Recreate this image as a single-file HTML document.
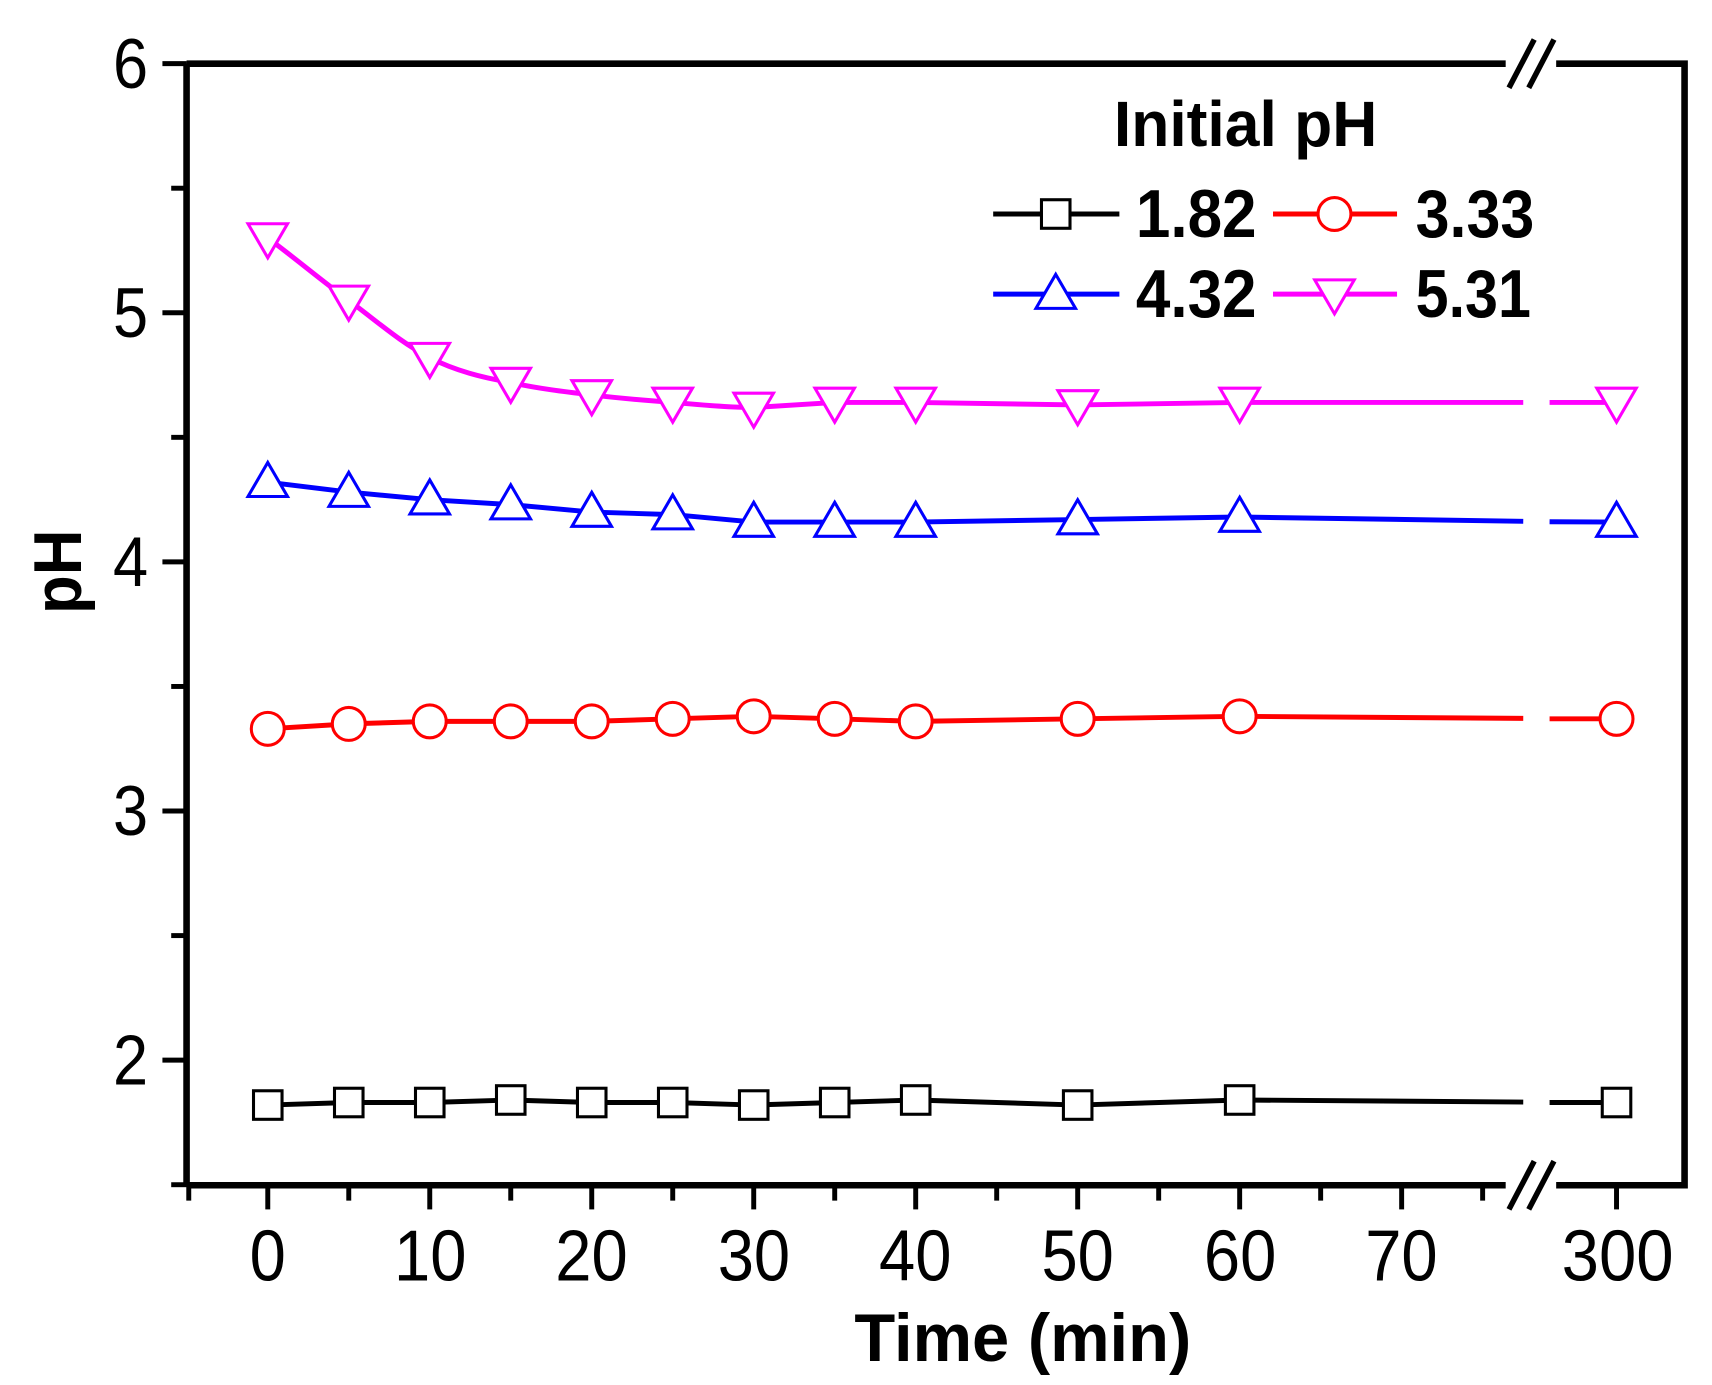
<!DOCTYPE html>
<html><head><meta charset="utf-8"><style>html,body{margin:0;padding:0;background:#fff}svg{display:block}</style></head>
<body>
<svg width="1712" height="1385" viewBox="0 0 1560 1262" preserveAspectRatio="none" xmlns="http://www.w3.org/2000/svg" xmlns:xlink="http://www.w3.org/1999/xlink" font-family="Liberation Sans, sans-serif">
<defs>
<rect id="sq" x="-13" y="-13" width="26" height="26" fill="#fff" stroke="currentColor" stroke-width="2.8"/>
<circle id="ci" r="15" fill="#fff" stroke="currentColor" stroke-width="2.8"/>
<path id="up" d="M0,-18 L18,13 L-18,13 Z" fill="#fff" stroke="currentColor" stroke-width="2.8"/>
<path id="dn" d="M0,18 L18,-13 L-18,-13 Z" fill="#fff" stroke="currentColor" stroke-width="2.8"/>
</defs>
<rect width="1560" height="1262" fill="#fff"/>
<path d="M170,58 H1372 M1418,58 H1535 V1080 H1418 M1372,1080 H170 M170,58 V1080" fill="none" stroke="#000" stroke-width="6"/>
<path d="M1375,80 L1398,36 M1393,80 L1416,36 M1375,1102 L1398,1058 M1393,1102 L1416,1058" stroke="#000" stroke-width="5"/>
<g stroke="#000" stroke-width="4.5">
<line x1="148" x2="170" y1="58" y2="58"/><line x1="156" x2="170" y1="171.5" y2="171.5"/>
<line x1="148" x2="170" y1="285" y2="285"/><line x1="156" x2="170" y1="398.5" y2="398.5"/>
<line x1="148" x2="170" y1="512" y2="512"/><line x1="156" x2="170" y1="625.5" y2="625.5"/>
<line x1="148" x2="170" y1="739" y2="739"/><line x1="156" x2="170" y1="852.5" y2="852.5"/>
<line x1="148" x2="170" y1="966" y2="966"/><line x1="156" x2="170" y1="1079.5" y2="1079.5"/>
</g>
<g font-size="64" text-anchor="middle">
<text x="119" y="80" textLength="32" lengthAdjust="spacingAndGlyphs">6</text><text x="119" y="307" textLength="32" lengthAdjust="spacingAndGlyphs">5</text><text x="119" y="534" textLength="32" lengthAdjust="spacingAndGlyphs">4</text><text x="119" y="761" textLength="32" lengthAdjust="spacingAndGlyphs">3</text><text x="119" y="988" textLength="32" lengthAdjust="spacingAndGlyphs">2</text>
</g>
<g stroke="#000" stroke-width="4.5">
<line x1="244" x2="244" y1="1080" y2="1102"/><line x1="317.8" x2="317.8" y1="1080" y2="1094"/>
<line x1="391.6" x2="391.6" y1="1080" y2="1102"/><line x1="465.4" x2="465.4" y1="1080" y2="1094"/>
<line x1="539.2" x2="539.2" y1="1080" y2="1102"/><line x1="613" x2="613" y1="1080" y2="1094"/>
<line x1="686.8" x2="686.8" y1="1080" y2="1102"/><line x1="760.6" x2="760.6" y1="1080" y2="1094"/>
<line x1="834.4" x2="834.4" y1="1080" y2="1102"/><line x1="908.2" x2="908.2" y1="1080" y2="1094"/>
<line x1="982" x2="982" y1="1080" y2="1102"/><line x1="1055.8" x2="1055.8" y1="1080" y2="1094"/>
<line x1="1129.6" x2="1129.6" y1="1080" y2="1102"/><line x1="1203.4" x2="1203.4" y1="1080" y2="1094"/>
<line x1="1277.2" x2="1277.2" y1="1080" y2="1102"/><line x1="1351" x2="1351" y1="1080" y2="1094"/>
<line x1="1473" x2="1473" y1="1080" y2="1102"/>
<line x1="172" x2="172" y1="1080" y2="1094"/>
</g>
<g font-size="66" text-anchor="middle">
<text x="244" y="1167" textLength="33" lengthAdjust="spacingAndGlyphs">0</text><text x="392" y="1167" textLength="66" lengthAdjust="spacingAndGlyphs">10</text><text x="539" y="1167" textLength="66" lengthAdjust="spacingAndGlyphs">20</text><text x="687" y="1167" textLength="66" lengthAdjust="spacingAndGlyphs">30</text>
<text x="834" y="1167" textLength="66" lengthAdjust="spacingAndGlyphs">40</text><text x="982" y="1167" textLength="66" lengthAdjust="spacingAndGlyphs">50</text><text x="1130" y="1167" textLength="66" lengthAdjust="spacingAndGlyphs">60</text><text x="1277" y="1167" textLength="66" lengthAdjust="spacingAndGlyphs">70</text>
<text x="1474" y="1167" textLength="102" lengthAdjust="spacingAndGlyphs">300</text>
</g>
<text x="932" y="1240" font-size="62" font-weight="bold" text-anchor="middle" textLength="307" lengthAdjust="spacingAndGlyphs">Time (min)</text>
<text x="0" y="0" font-size="62" font-weight="bold" text-anchor="middle" transform="translate(74,521) rotate(-90)" textLength="77" lengthAdjust="spacingAndGlyphs">pH</text>
<g fill="none" stroke-width="4.5" stroke-linejoin="round">
<polyline stroke="#000" points="244,1006.9 317.8,1004.6 391.6,1004.6 465.4,1002.3 539.2,1004.6 613,1004.6 686.8,1006.9 760.6,1004.6 834.4,1002.3 982,1006.9 1129.6,1002.3 1388,1004.2"/>
<line stroke="#000" x1="1412" y1="1004.6" x2="1473" y2="1004.6"/>
<polyline stroke="#f00" points="244,664.1 317.8,659.6 391.6,657.3 465.4,657.3 539.2,657.3 613,655 686.8,652.7 760.6,655 834.4,657.3 982,655 1129.6,652.7 1388,654.6"/>
<line stroke="#f00" x1="1412" y1="655" x2="1473" y2="655"/>
<polyline stroke="#00f" points="244,439.4 317.8,448.4 391.6,455.3 465.4,459.8 539.2,466.6 613,468.9 686.8,475.7 760.6,475.7 834.4,475.7 982,473.4 1129.6,471.1 1388,475"/>
<line stroke="#00f" x1="1412" y1="475.4" x2="1473" y2="475.7"/>
<path stroke="#f0f" d="M244,216.9 C270,236 292,255 317.8,273.7 C345,294 365,312 391.6,325.9 C415,338 440,344 465.4,348.6 C490,354 515,357 539.2,359.9 C565,363 590,365 613,366.7 C640,369 665,371.3 686.8,371.3 L760.6,366.7 L834.4,366.7 L982,369 L1129.6,366.7 L1388,366.7"/>
<line stroke="#f0f" x1="1412" y1="366.7" x2="1473" y2="366.7"/>
</g>
<g color="#000">
<use xlink:href="#sq" x="244" y="1006.9"/><use xlink:href="#sq" x="317.8" y="1004.6"/><use xlink:href="#sq" x="391.6" y="1004.6"/><use xlink:href="#sq" x="465.4" y="1002.3"/><use xlink:href="#sq" x="539.2" y="1004.6"/><use xlink:href="#sq" x="613" y="1004.6"/><use xlink:href="#sq" x="686.8" y="1006.9"/><use xlink:href="#sq" x="760.6" y="1004.6"/><use xlink:href="#sq" x="834.4" y="1002.3"/><use xlink:href="#sq" x="982" y="1006.9"/><use xlink:href="#sq" x="1129.6" y="1002.3"/><use xlink:href="#sq" x="1473" y="1004.6"/>
</g>
<g color="#f00">
<use xlink:href="#ci" x="244" y="664.1"/><use xlink:href="#ci" x="317.8" y="659.6"/><use xlink:href="#ci" x="391.6" y="657.3"/><use xlink:href="#ci" x="465.4" y="657.3"/><use xlink:href="#ci" x="539.2" y="657.3"/><use xlink:href="#ci" x="613" y="655"/><use xlink:href="#ci" x="686.8" y="652.7"/><use xlink:href="#ci" x="760.6" y="655"/><use xlink:href="#ci" x="834.4" y="657.3"/><use xlink:href="#ci" x="982" y="655"/><use xlink:href="#ci" x="1129.6" y="652.7"/><use xlink:href="#ci" x="1473" y="655"/>
</g>
<g color="#00f">
<use xlink:href="#up" x="244" y="439.4"/><use xlink:href="#up" x="317.8" y="448.4"/><use xlink:href="#up" x="391.6" y="455.3"/><use xlink:href="#up" x="465.4" y="459.8"/><use xlink:href="#up" x="539.2" y="466.6"/><use xlink:href="#up" x="613" y="468.9"/><use xlink:href="#up" x="686.8" y="475.7"/><use xlink:href="#up" x="760.6" y="475.7"/><use xlink:href="#up" x="834.4" y="475.7"/><use xlink:href="#up" x="982" y="473.4"/><use xlink:href="#up" x="1129.6" y="471.1"/><use xlink:href="#up" x="1473" y="475.7"/>
</g>
<g color="#f0f">
<use xlink:href="#dn" x="244" y="216.9"/><use xlink:href="#dn" x="317.8" y="273.7"/><use xlink:href="#dn" x="391.6" y="325.9"/><use xlink:href="#dn" x="465.4" y="348.6"/><use xlink:href="#dn" x="539.2" y="359.9"/><use xlink:href="#dn" x="613" y="366.7"/><use xlink:href="#dn" x="686.8" y="371.3"/><use xlink:href="#dn" x="760.6" y="366.7"/><use xlink:href="#dn" x="834.4" y="366.7"/><use xlink:href="#dn" x="982" y="369"/><use xlink:href="#dn" x="1129.6" y="366.7"/><use xlink:href="#dn" x="1473" y="366.7"/>
</g>
<text x="1015" y="133" font-size="58" font-weight="bold" textLength="240" lengthAdjust="spacingAndGlyphs">Initial pH</text>
<g stroke-width="4.5">
<line x1="905" x2="1020" y1="195" y2="195" stroke="#000"/>
<line x1="1160" x2="1273" y1="195" y2="195" stroke="#f00"/>
<line x1="905" x2="1020" y1="268" y2="268" stroke="#00f"/>
<line x1="1160" x2="1273" y1="268" y2="268" stroke="#f0f"/>
</g>
<use xlink:href="#sq" x="962" y="195" color="#000"/>
<use xlink:href="#ci" x="1216" y="195" color="#f00"/>
<use xlink:href="#up" x="962" y="268" color="#00f"/>
<use xlink:href="#dn" x="1216" y="268" color="#f0f"/>
<g font-size="62" font-weight="bold">
<text x="1035" y="216" textLength="110" lengthAdjust="spacingAndGlyphs">1.82</text><text x="1290" y="216" textLength="108" lengthAdjust="spacingAndGlyphs">3.33</text>
<text x="1035" y="289" textLength="110" lengthAdjust="spacingAndGlyphs">4.32</text><text x="1290" y="289" textLength="105" lengthAdjust="spacingAndGlyphs">5.31</text>
</g>
</svg>
</body></html>
